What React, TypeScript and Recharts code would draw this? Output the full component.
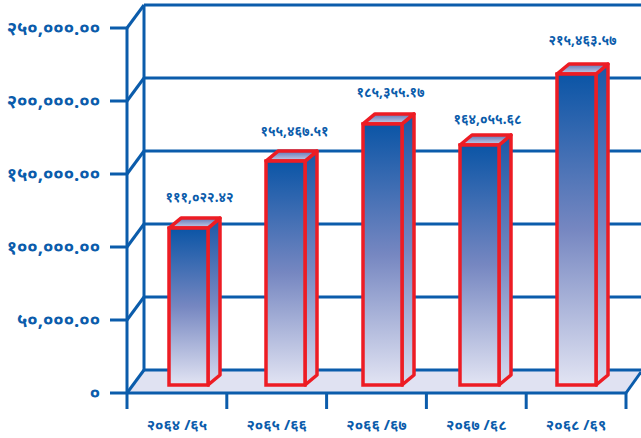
import { Bar, ComposedChart, ReferenceLine, XAxis, YAxis } from "recharts";

// fiscal years on the x axis
const years = ["२०६४ /६५", "२०६५ /६६", "२०६६ /६७", "२०६७ /६८", "२०६८ /६९"];
// bar heights as drawn, read against the y axis
const amounts = [107500, 153400, 178800, 164400, 213000];
// amounts printed above the bars
const amountLabels = ["१११,०२२.४२", "१५५,४६७.५१", "१८५,३५५.१७", "१६४,०५५.६८", "२१५,४६३.५७"];
const yTicks = [0, 50000, 100000, 150000, 200000, 250000];
const yTickLabels = ["०", "५०,०००.००", "१००,०००.००", "१५०,०००.००", "२००,०००.००", "२५०,०००.००"];

const data = years.map((year, i) => ({ year, amount: amounts[i], label: amountLabels[i] }));

const WIDTH = 641;
const HEIGHT = 438;
const PLOT_RIGHT = 626;
const BAND = 499 / years.length;
const BLUE = "#0b5cab";
const RED = "#ed1c24";
const FONT = "'Noto Sans', 'DejaVu Sans', sans-serif";

// depth of the wall behind the plot
const WALL_X = 17;
const WALL_Y = 23;
// depth of the bars themselves
const BAR_X = 12;
const BAR_Y = 10;
const BAR_LIFT = 8;
// the amounts were placed by hand in the original, so each one gets a small nudge
const NUDGE_X = [3, 1, 0, 0, -2];
const NUDGE_Y = [0, 1, -1, 5, -3];

function WallLine({ x1, y1 }: any) {
  return (
    <g fill="none" stroke={BLUE} strokeWidth={3}>
      <line x1={x1} y1={y1} x2={x1 + WALL_X} y2={y1 - WALL_Y} />
      <line x1={x1 + WALL_X} y1={y1 - WALL_Y} x2={WIDTH} y2={y1 - WALL_Y} />
    </g>
  );
}

function TopWallLine(props: any) {
  const { x1, y1 } = props;
  return (
    <g>
      <WallLine {...props} />
      <line x1={x1 + WALL_X} y1={y1 - WALL_Y} x2={x1 + WALL_X} y2={y1 - WALL_Y + 365} stroke={BLUE} strokeWidth={3} />
    </g>
  );
}

function FloorLine({ x1, x2, y1 }: any) {
  const points = `${x1},${y1} ${x1 + WALL_X},${y1 - WALL_Y} ${WIDTH},${y1 - WALL_Y} ${WIDTH},${y1 - 21} ${x2},${y1}`;
  return (
    <g>
      <polygon points={points} fill="#e0e2f2" />
      <line x1={x1} y1={y1} x2={x1 + WALL_X} y2={y1 - WALL_Y} stroke={BLUE} strokeWidth={3} />
      <line x1={x1 + WALL_X} y1={y1 - WALL_Y} x2={WIDTH} y2={y1 - WALL_Y} stroke={BLUE} strokeWidth={3} />
      <line x1={x2} y1={y1} x2={WIDTH} y2={y1 - 21} stroke={BLUE} strokeWidth={3} />
    </g>
  );
}

function Box3D({ x, y, width, height, payload, index }: any) {
  const top = y - BAR_LIFT;
  const bottom = top + height;
  const right = x + width;
  return (
    <g>
      <polygon
        points={`${right},${top} ${right + BAR_X},${top - BAR_Y} ${right + BAR_X},${bottom - BAR_Y} ${right},${bottom}`}
        fill="url(#sideGrad)"
        stroke={RED}
        strokeWidth={3.5}
        strokeLinejoin="round"
      />
      <polygon
        points={`${x},${top} ${x + BAR_X},${top - BAR_Y} ${right + BAR_X},${top - BAR_Y} ${right},${top}`}
        fill="url(#topGrad)"
        stroke={RED}
        strokeWidth={3.5}
        strokeLinejoin="round"
      />
      <rect x={x} y={top} width={width} height={height} fill="url(#frontGrad)" stroke={RED} strokeWidth={3.5} />
      <text
        x={x + width / 2 + BAR_X / 2 + 2 + NUDGE_X[index]}
        y={top - 26 + NUDGE_Y[index]}
        textAnchor="middle"
        fontFamily={FONT}
        fontSize={13.5}
        fontWeight={700}
        fill={BLUE}
      >
        {payload.label}
      </text>
    </g>
  );
}

function YearTick({ x, y, payload, index }: any) {
  const left = x - BAND / 2;
  return (
    <g>
      <line x1={left} y1={y} x2={left} y2={y + 16} stroke={BLUE} strokeWidth={3} />
      {index === years.length - 1 && (
        <line x1={left + BAND} y1={y} x2={left + BAND} y2={y + 16} stroke={BLUE} strokeWidth={3} />
      )}
      <text x={x} y={y + 37} textAnchor="middle" fontFamily={FONT} fontSize={15} fontWeight={700} fill={BLUE}>
        {payload.value}
      </text>
    </g>
  );
}

export default function App() {
  return (
    <div style={{ position: "absolute", left: 0, top: 0, width: WIDTH, height: HEIGHT, background: "#fff" }}>
      <ComposedChart
        width={WIDTH}
        height={HEIGHT}
        data={data}
        margin={{ top: 28, right: WIDTH - PLOT_RIGHT, bottom: 0, left: 0 }}
      >
        <defs>
          <linearGradient id="frontGrad" x1="0" y1="0" x2="0" y2="1">
            <stop offset="0%" stopColor="#0b55a6" />
            <stop offset="50%" stopColor="#7687c1" />
            <stop offset="100%" stopColor="#e2e4f3" />
          </linearGradient>
          <linearGradient id="sideGrad" x1="0" y1="0" x2="0" y2="1">
            <stop offset="0%" stopColor="#1b58a6" />
            <stop offset="50%" stopColor="#7687c1" />
            <stop offset="100%" stopColor="#d8dbef" />
          </linearGradient>
          <linearGradient id="topGrad" x1="0" y1="0" x2="0" y2="1">
            <stop offset="0%" stopColor="#5f76b6" />
            <stop offset="100%" stopColor="#ccd0e8" />
          </linearGradient>
        </defs>
        <ReferenceLine xAxisId="labels" y={0} ifOverflow="visible" shape={FloorLine} zIndex={50} />
        {yTicks.slice(1, -1).map((v) => (
          <ReferenceLine key={v} xAxisId="labels" y={v} ifOverflow="visible" shape={WallLine} zIndex={50} />
        ))}
        <ReferenceLine xAxisId="labels" y={250000} ifOverflow="visible" shape={TopWallLine} zIndex={50} />
        <XAxis
          xAxisId="labels"
          dataKey="year"
          height={45}
          axisLine={{ stroke: BLUE, strokeWidth: 3 }}
          tickLine={false}
          tickSize={0}
          tickMargin={0}
          interval={0}
          tick={YearTick}
          zIndex={60}
        />
        <XAxis xAxisId="bars" dataKey="year" hide height={0} padding={{ left: 13, right: 1 }} />
        <YAxis
          domain={[0, 250000]}
          ticks={yTicks}
          width={127}
          axisLine={{ stroke: BLUE, strokeWidth: 3 }}
          tickLine={{ stroke: BLUE, strokeWidth: 3 }}
          tickSize={17}
          tickMargin={10}
          tickFormatter={(v: number) => yTickLabels[yTicks.indexOf(v)]}
          tick={{ fill: BLUE, fontSize: 18.5, fontWeight: 700, fontFamily: FONT }}
          zIndex={60}
        />
        <Bar xAxisId="bars" dataKey="amount" barSize={39} isAnimationActive={false} shape={Box3D} zIndex={300} />
      </ComposedChart>
    </div>
  );
}
